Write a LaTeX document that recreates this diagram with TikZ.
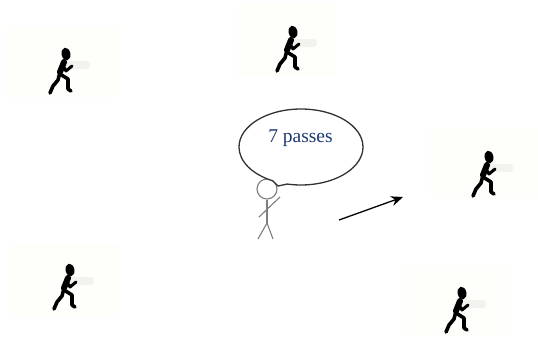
\documentclass[tikz,border=0pt]{standalone}
\usepackage{fontspec}
\setmainfont{Liberation Serif}
\usetikzlibrary{arrows.meta,positioning,calc,shapes.callouts}
\definecolor{panelcream}{RGB}{254,254,250}
\definecolor{textblue}{RGB}{31,58,110}
\definecolor{stickgray}{RGB}{125,125,125}
\definecolor{markgray}{RGB}{242,242,238}
\begin{document}
\begin{tikzpicture}[x=1pt,y=-1pt]
\tikzset{
panel/.style={draw=none,fill=panelcream,minimum width=#1,minimum height=71pt,inner sep=0pt,outer sep=0pt},
limb/.style={line width=3.6pt,line cap=round,line join=round,black},
stick/.style={line width=1.1pt,stickgray},
runner/.pic={
  \fill[markgray,rounded corners=3pt] (-6,7) rectangle (24,15);
  \fill[black,rotate=12] (0,0) ellipse (4.4 and 6.4);
  \draw[limb,line width=6pt] (-2,8)--(-6,18);
  \draw[limb] (-6,18)--(-8,26)--(-13,32)--(-16,39);
  \draw[limb] (-6,20)--(2,25)--(2,35)--(5,37);
  \draw[limb,line width=3pt] (-4,10)--(0,17)--(6,12);
}}
\useasboundingbox (0,0) rectangle (538,338);
\node[panel=113pt] (p1) at (62.5,62.5) {};
\node[panel=102pt] (p2) at (286,40.5) {};
\node[panel=108pt] (p3) at (484,163.5) {};
\node[panel=110pt] (p4) at (65,279) {};
\node[panel=107pt] (p5) at (456.5,301) {};
\pic at (66,54) {runner};
\pic at (293,32) {runner};
\pic at (489,157) {runner};
\pic at (70,270) {runner};
\pic at (462,293) {runner};
% thrower
\node[circle,draw=stickgray,line width=1.1pt,minimum size=20pt,inner sep=0pt] (head) at (267,189) {};
\coordinate (hip) at (267,223);
\coordinate (footl) at (258,239);
\coordinate (footr) at (273,239);
\coordinate (handl) at (259,217);
\coordinate (handr) at (280,197);
\draw[stick] (head)--(hip);
\draw[stick] (footl)--(hip)--(footr);
\draw[stick] (handl)--(handr);
\node[ellipse callout,draw=black!80,line width=1.3pt,fill=white,minimum width=124pt,minimum height=76pt,inner sep=0pt,
  callout absolute pointer={(278,186)},callout pointer arc=14] (bubble) at (301,147) {};
\node[text=textblue,font=\fontsize{19.5}{22}\selectfont,inner sep=0pt] (lbl) at (300.5,138) {7 passes};
% pass direction
\coordinate (from) at (339,220);
\coordinate (to) at (403,197);
\draw[-{Stealth[length=12pt,width=10pt]},line width=1.3pt,black] (from)--(to);
\end{tikzpicture}
\end{document}
